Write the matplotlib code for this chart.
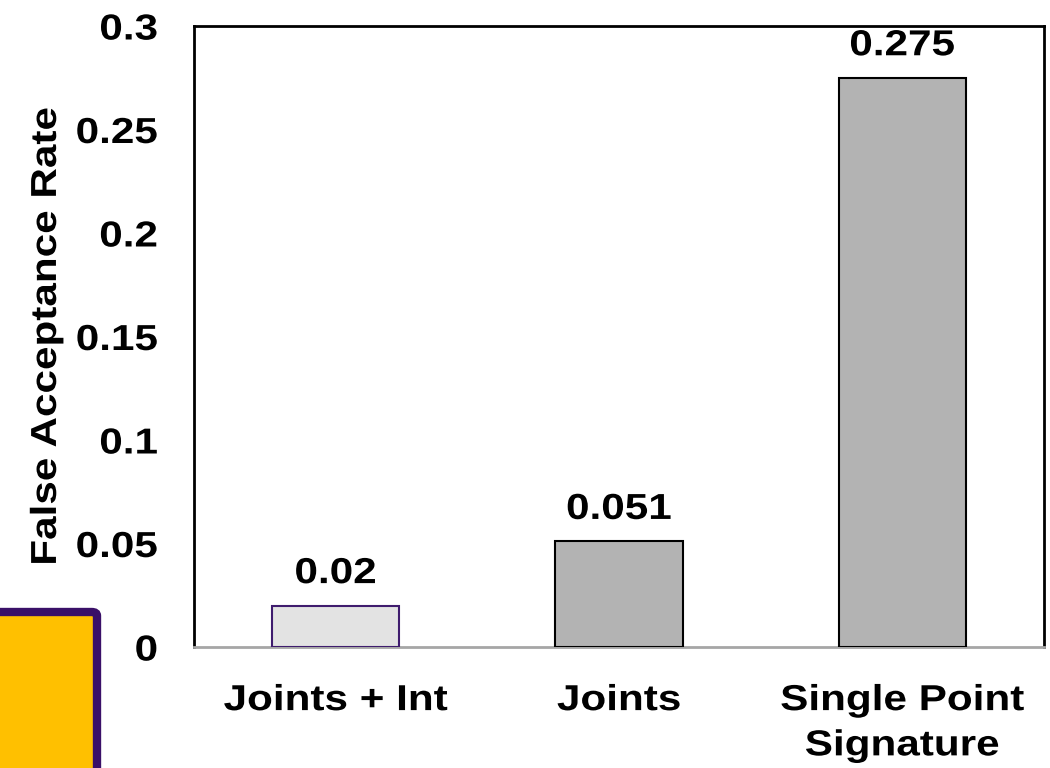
import matplotlib
matplotlib.use("Agg")
import matplotlib.pyplot as plt
from matplotlib.patches import FancyBboxPatch
from matplotlib.patheffects import AbstractPathEffect
from matplotlib.transforms import Affine2D

categories = ["Joints + Int", "Joints", "Single Point\nSignature"]
far_values = [0.02, 0.051, 0.275]
value_labels = ["0.02", "0.051", "0.275"]
y_ticks = [0, 0.05, 0.1, 0.15, 0.2, 0.25, 0.3]
y_tick_labels = ["0", "0.05", "0.1", "0.15", "0.2", "0.25", "0.3"]

plt.rcParams["font.family"] = ["Liberation Sans", "DejaVu Sans"]
plt.rcParams["font.weight"] = "bold"


class WideText(AbstractPathEffect):
    """Widen glyphs along the text direction, keeping the anchor edge fixed."""

    def __init__(self, sx=1.17, anchor="center"):
        super().__init__()
        self.sx = sx
        self.anchor = anchor

    def draw_path(self, renderer, gc, tpath, affine, rgbFace=None):
        ext = tpath.get_extents()
        if self.anchor == "right":
            cx = ext.x1
        elif self.anchor == "left":
            cx = ext.x0
        else:
            cx = 0.5 * (ext.x0 + ext.x1)
        stretch = Affine2D().translate(-cx, 0).scale(self.sx, 1).translate(cx, 0)
        renderer.draw_path(gc, tpath, stretch + affine, rgbFace)


SX = 1.17
FS = 26

fig = plt.figure(figsize=(10.5, 7.68), dpi=100)
ax = fig.add_axes([194 / 1050, 121 / 768, 850 / 1050, 621 / 768])

face_colors = ["#E3E3E3", "#B3B3B3", "#B3B3B3"]
edge_colors = ["#3F1C6E", "#000000", "#000000"]
x = list(range(len(categories)))
ax.bar(x, far_values, width=0.45, color=face_colors,
       edgecolor=edge_colors, linewidth=1.5, zorder=3)

for xi, v, lab in zip(x, far_values, value_labels):
    ax.text(xi, v + 0.007, lab, ha="center", va="bottom",
            fontsize=FS, fontweight="bold",
            path_effects=[WideText(SX, "center")])

ax.set_xlim(-0.5, 2.5)
ax.set_ylim(0, 0.3)
ax.set_yticks(y_ticks)
ax.set_yticklabels(y_tick_labels, fontsize=FS, fontweight="bold")
ax.set_xticks(x)
ax.set_xticklabels(categories, fontsize=FS, fontweight="bold", linespacing=1.38)
ax.tick_params(axis="x", length=0, pad=26)
ax.tick_params(axis="y", length=0, pad=26)
for lbl in ax.get_xticklabels():
    lbl.set_path_effects([WideText(SX, "center")])
for lbl in ax.get_yticklabels():
    lbl.set_path_effects([WideText(SX, "right")])

ax.set_ylabel("False Acceptance Rate", fontsize=FS, fontweight="bold")
ax.yaxis.label.set_path_effects([WideText(SX, "center")])
ax.yaxis.set_label_coords(-0.153, 0.5)

for side in ["left", "top", "right"]:
    ax.spines[side].set_color("black")
    ax.spines[side].set_linewidth(2)
ax.spines["bottom"].set_color("#A6A6A6")
ax.spines["bottom"].set_linewidth(2)

# gold badge in the lower-left corner of the figure
badge = FancyBboxPatch((-20 / 1050, -50 / 768), 117 / 1050, 206 / 768,
                       boxstyle="round,pad=0,rounding_size=0.005",
                       transform=fig.transFigure, facecolor="#FFC000",
                       edgecolor="#3A1068", linewidth=6, clip_on=False)
fig.patches.append(badge)

fig.savefig("out.png", dpi=100)
